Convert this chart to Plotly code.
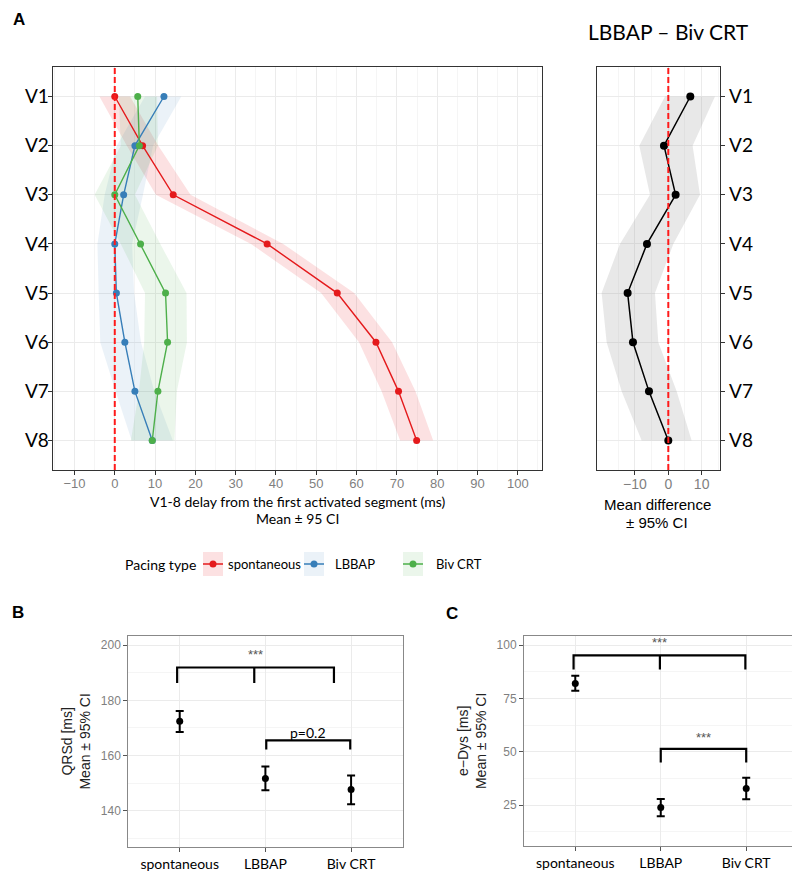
import plotly.graph_objects as go

# ---- data ----
leads = ["V1", "V2", "V3", "V4", "V5", "V6", "V7", "V8"]

spont_mean = [0.0, 6.9, 14.5, 37.8, 55.2, 64.8, 70.4, 74.9]
spont_lo = [-3.8, 3.0, 10.2, 33.8, 51.2, 60.6, 66.2, 70.8]
spont_hi = [3.8, 10.8, 18.8, 41.8, 59.4, 68.8, 74.6, 79.0]

lbbap_mean = [12.2, 5.0, 2.2, 0.0, 0.4, 2.5, 5.0, 9.3]
lbbap_lo = [7.5, 0.5, -2.5, -4.3, -4.0, -3.6, 0.2, 4.2]
lbbap_hi = [16.5, 9.5, 7.0, 4.3, 4.8, 6.5, 9.8, 14.4]

biv_mean = [5.7, 6.1, 0.0, 6.4, 12.6, 13.1, 10.7, 9.3]
biv_lo = [1.0, 1.5, -5.0, 1.5, 7.5, 7.3, 6.0, 4.0]
biv_hi = [10.5, 10.7, 5.0, 11.3, 17.8, 17.9, 15.4, 14.8]

diff_mean = [6.6, -1.3, 2.2, -6.4, -12.2, -10.6, -5.8, 0.0]
diff_lo = [-1.0, -8.7, -5.5, -14.5, -20.0, -18.5, -14.0, -8.0]
diff_hi = [14.0, 7.3, 9.5, 1.5, -4.0, -3.0, 2.5, 7.0]

groups = ["spontaneous", "LBBAP", "Biv CRT"]
qrsd_mean = [172.4, 151.7, 147.7]
qrsd_lo = [168.5, 147.4, 142.4]
qrsd_hi = [176.1, 156.0, 152.8]

edys_mean = [82.0, 23.9, 32.8]
edys_lo = [78.6, 19.8, 27.7]
edys_hi = [85.6, 27.8, 37.8]

# significance brackets: leg positions (group index), bar level, leg bottom, label, label x, label y
brackets_b = [([-0.03, 0.87, 1.80], 191.9, 186.3, "***", 0.89, 196.5),
              ([1.01, 1.99], 165.5, 162.2, "p=0.2", 1.5, 168.5)]
brackets_c = [([-0.02, 0.99, 1.99], 95.2, 88.6, "***", 0.98, 101.3),
              ([1.0, 2.0], 51.3, 45.0, "***", 1.5, 56.6)]

RED, BLUE, GREEN = "#E41A1C", "#377EB8", "#4DAF4A"

# the page body has an 8px margin, so the figure is drawn 8px in from the window corner
OFF = 8
W, H = 800 - OFF, 871 - OFF


def px(x):
    return (x - OFF) / W


def py(y):
    return 1 - (y - OFF) / H


fig = go.Figure()

series = [("spontaneous", spont_mean, spont_lo, spont_hi, RED, "rgba(228,26,28,0.13)"),
          ("LBBAP", lbbap_mean, lbbap_lo, lbbap_hi, BLUE, "rgba(55,126,184,0.10)"),
          ("Biv CRT", biv_mean, biv_lo, biv_hi, GREEN, "rgba(77,175,74,0.11)")]

for name, m, lo, hi, col, fillc in series:
    fig.add_trace(go.Scatter(x=lo + hi[::-1], y=leads + leads[::-1], fill="toself",
                             fillcolor=fillc, line=dict(width=0), mode="lines",
                             hoverinfo="skip", showlegend=False, xaxis="x", yaxis="y"))
for name, m, lo, hi, col, fillc in series:
    fig.add_trace(go.Scatter(x=m, y=leads, mode="lines+markers", name=name,
                             line=dict(color=col, width=1.4), marker=dict(color=col, size=7),
                             showlegend=False, xaxis="x", yaxis="y"))

# difference panel
fig.add_trace(go.Scatter(x=diff_lo + diff_hi[::-1], y=leads + leads[::-1], fill="toself",
                         fillcolor="rgba(150,150,150,0.22)", line=dict(width=0), mode="lines",
                         hoverinfo="skip", showlegend=False, xaxis="x2", yaxis="y2"))
fig.add_trace(go.Scatter(x=diff_mean, y=leads, mode="lines+markers",
                         line=dict(color="black", width=1.5), marker=dict(color="black", size=8),
                         showlegend=False, xaxis="x2", yaxis="y2"))

# panels B and C
for xa, ya, m, lo, hi in [("x3", "y3", qrsd_mean, qrsd_lo, qrsd_hi),
                          ("x4", "y4", edys_mean, edys_lo, edys_hi)]:
    fig.add_trace(go.Scatter(
        x=list(range(len(groups))), y=m, mode="markers",
        marker=dict(color="black", size=7),
        error_y=dict(type="data", symmetric=False,
                     array=[h - v for h, v in zip(hi, m)],
                     arrayminus=[v - l for v, l in zip(m, lo)],
                     color="black", thickness=2, width=4),
        showlegend=False, xaxis=xa, yaxis=ya))

annotations = []
for xa, ya, brs in [("x3", "y3", brackets_b), ("x4", "y4", brackets_c)]:
    for legs, top, bot, label, lx, ly in brs:
        bx = [legs[0], legs[0], legs[-1], legs[-1]]
        by = [bot, top, top, bot]
        for mid in legs[1:-1]:
            bx += [None, mid, mid]
            by += [None, top, bot]
        fig.add_trace(go.Scatter(x=bx, y=by, mode="lines", line=dict(color="black", width=2.2),
                                 showlegend=False, hoverinfo="skip", xaxis=xa, yaxis=ya))
        star = label.startswith("*")
        annotations.append(dict(x=lx, y=ly, xref=xa, yref=ya, text=label, showarrow=False,
                                xanchor="center", yanchor="middle",
                                font=dict(family="Liberation Sans" if star else "Lato",
                                          size=13 if star else 14,
                                          color="#555" if star else "black")))

shapes = []
for xa in ["x", "x2"]:
    shapes.append(dict(type="line", xref=xa, yref="paper", x0=0, x1=0,
                       y0=py(470), y1=py(67),
                       line=dict(color="#FF1A1A", width=2, dash="6px,3px")))


def note(x, y, text, size, family="Lato", color="black", xanchor="center"):
    return dict(x=px(x), y=py(y), xref="paper", yref="paper", text=text, showarrow=False,
                xanchor=xanchor, yanchor="middle", font=dict(family=family, size=size, color=color))


# manual legend
legend_y = 564
annotations.append(note(123, legend_y, "Pacing type", 14, xanchor="left"))
for (name, _, _, _, col, fillc), kx, tx in zip(series, [203, 304, 403], [226, 333, 434]):
    shapes.append(dict(type="rect", xref="paper", yref="paper", x0=px(kx), x1=px(kx + 20),
                       y0=py(legend_y + 12), y1=py(legend_y - 12), fillcolor=fillc, line=dict(width=0)))
    shapes.append(dict(type="line", xref="paper", yref="paper", x0=px(kx), x1=px(kx + 20),
                       y0=py(legend_y), y1=py(legend_y), line=dict(color=col, width=1.5)))
    shapes.append(dict(type="circle", xref="paper", yref="paper", x0=px(kx + 6.5), x1=px(kx + 13.5),
                       y0=py(legend_y + 3.5), y1=py(legend_y - 3.5), fillcolor=col, line=dict(width=0)))
    annotations.append(note(tx, legend_y, name, 13, xanchor="left"))

# titles and panel letters
annotations += [
    note(11, 19, "<b>A</b>", 17, family="Liberation Sans", xanchor="left"),
    note(10, 612, "<b>B</b>", 17, family="Liberation Sans", xanchor="left"),
    note(444, 613, "<b>C</b>", 17, family="Liberation Sans", xanchor="left"),
    note(668, 32, "LBBAP – Biv CRT", 21),
    note(297, 501, "V1-8 delay from the first activated segment (ms)", 14),
    note(297, 518, "Mean ± 95 CI", 14),
    note(657, 504, "Mean difference", 15, family="Liberation Sans"),
    note(657, 522, "± 95% CI", 15, family="Liberation Sans"),
]

GRID, MINOR = "#EBEBEB", "#F5F5F5"
tick_font = dict(family="Liberation Sans", size=13, color="#7F7F7F")
lead_font = dict(family="Lato", size=19, color="black")

common_lin = dict(showline=True, mirror=True, ticks="outside", ticklen=4, zeroline=False,
                  showgrid=True, gridcolor=GRID, gridwidth=1, automargin=False)
common_cat = dict(type="category", categoryarray=leads, range=[7.6, -0.6],
                  domain=[py(470), py(67)], linecolor="#333", tickcolor="#333",
                  showline=True, mirror=True, ticks="outside", ticklen=4, showgrid=True,
                  gridcolor=GRID, tickfont=lead_font, automargin=False)

fig.update_layout(
    width=W, height=H, margin=dict(l=0, r=0, t=0, b=0, autoexpand=False),
    plot_bgcolor="white", paper_bgcolor="white",
    showlegend=False,
    xaxis=dict(domain=[px(52.7), px(542)], range=[-15.4, 106], tickvals=list(range(-10, 101, 10)),
               linecolor="#333", tickcolor="#333", tickfont=tick_font, anchor="y",
               ticklabelstandoff=-3,
               minor=dict(tickvals=list(range(-15, 106, 10)), showgrid=True, gridcolor=MINOR,
                          ticks=""), **common_lin),
    yaxis=dict(anchor="x", ticklabelstandoff=-5, **common_cat),
    xaxis2=dict(domain=[px(597.3), px(720.3)], range=[-21.3, 15.6], tickvals=[-10, 0, 10],
                linecolor="#333", tickcolor="#333",
                tickfont=dict(family="Liberation Sans", size=14, color="#7F7F7F"),
                anchor="y2", ticklabelstandoff=-3,
                minor=dict(tickvals=[-15, -5, 5, 15], showgrid=True, gridcolor=MINOR, ticks=""),
                **common_lin),
    yaxis2=dict(side="right", anchor="x2", **common_cat),
    xaxis3=dict(domain=[px(128.3), px(402.5)], range=[-0.6, 2.6], tickvals=[0, 1, 2],
                ticktext=groups, anchor="y3", linecolor="#888", tickcolor="#555",
                tickfont=dict(family="Lato", size=14, color="black"), **common_lin),
    yaxis3=dict(domain=[py(846.7), py(636)], range=[127, 203.3], tickvals=[140, 160, 180, 200],
                anchor="x3", linecolor="#888", tickcolor="#555",
                tickfont=dict(family="Liberation Sans", size=12, color="#7F7F7F"),
                title=dict(text="QRSd [ms]<br>Mean ± 95% CI", standoff=6,
                           font=dict(family="Liberation Sans", size=14, color="#222")),
                minor=dict(tickvals=[130, 150, 170, 190], showgrid=True, gridcolor=MINOR, ticks=""),
                **common_lin),
    xaxis4=dict(domain=[px(524), px(797.5)], range=[-0.6, 2.6], tickvals=[0, 1, 2],
                ticktext=groups, anchor="y4", linecolor="#888", tickcolor="#555",
                tickfont=dict(family="Lato", size=14, color="black"), **common_lin),
    yaxis4=dict(domain=[py(846), py(635.7)], range=[5.8, 104.4], tickvals=[25, 50, 75, 100],
                anchor="x4", linecolor="#888", tickcolor="#555",
                tickfont=dict(family="Liberation Sans", size=12, color="#7F7F7F"),
                title=dict(text="e−Dys [ms]<br>Mean ± 95% CI", standoff=6,
                           font=dict(family="Liberation Sans", size=14, color="#222")),
                minor=dict(tickvals=[12.5, 37.5, 62.5, 87.5], showgrid=True, gridcolor=MINOR,
                           ticks=""),
                **common_lin),
    shapes=shapes,
    annotations=annotations,
)

fig.write_html("out.html")
